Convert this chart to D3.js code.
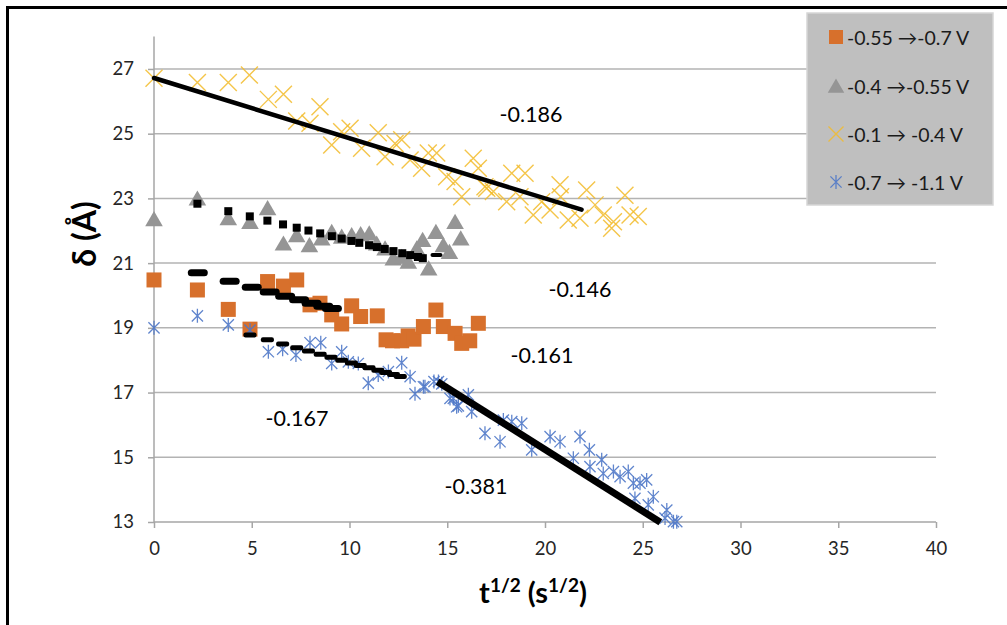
<!DOCTYPE html>
<html>
<head>
<meta charset="utf-8">
<script src="https://cdn.jsdelivr.net/npm/d3@7"></script>
<style>
  body { margin: 0; background: #fff; }
  svg text { font-family: Lato, "Open Sans", sans-serif; }
</style>
</head>
<body>
<svg id="chart" width="1007" height="625"></svg>
<script>
// Axis ticks
const xTickValues = [0, 5, 10, 15, 20, 25, 30, 35, 40];
const yTickValues = [13, 15, 17, 19, 21, 23, 25, 27];

// Series names (potential steps)
const seriesNames = ["-0.55 \u2192-0.7 V", "-0.4 \u2192-0.55 V", "-0.1 \u2192 -0.4 V", "-0.7 \u2192 -1.1 V"];

// Measured thickness δ (Å) against t^1/2 (s^1/2)
const orangePts = [
  [0, 20.48], [2.22, 20.17], [3.8, 19.57], [4.91, 18.96], [5.81, 20.43], [6.62, 20.29],
  [7.3, 20.48], [7.98, 19.71], [8.49, 19.76], [9.09, 19.4], [9.6, 19.12], [10.11, 19.68],
  [10.57, 19.35], [11.42, 19.37], [11.87, 18.63], [12.2, 18.6], [12.67, 18.6], [13.0, 18.75],
  [13.3, 18.65], [13.78, 19.04], [14.42, 19.55], [14.8, 19.04], [15.4, 18.83], [15.74, 18.52],
  [16.15, 18.6], [16.59, 19.14]
];
const grayPts = [
  [0, 22.36], [2.22, 23.0], [3.8, 22.39], [4.91, 22.28], [5.81, 22.7], [6.62, 21.61],
  [7.3, 21.87], [7.95, 21.56], [8.58, 21.77], [9.09, 21.97], [9.6, 21.82], [10.11, 21.87],
  [10.57, 21.9], [11.01, 21.92], [11.39, 21.61], [11.82, 21.46], [12.24, 21.15], [12.67, 21.2],
  [13.01, 21.05], [13.44, 21.46], [13.74, 21.72], [14.05, 20.84], [14.42, 21.97], [14.8, 21.56],
  [15.11, 21.35], [15.4, 22.28], [15.69, 21.77]
];
const yellowPts = [
  [0, 26.71], [2.22, 26.58], [3.8, 26.58], [4.88, 26.81], [5.85, 26.06], [6.62, 26.22],
  [7.3, 25.39], [7.98, 25.32], [8.49, 25.83], [9.09, 24.65], [9.6, 25.06], [10.03, 25.17],
  [10.62, 24.55], [11.47, 25.03], [11.82, 24.29], [12.33, 24.7], [12.67, 24.81], [13.1, 24.19],
  [13.69, 23.93], [14.03, 24.4], [14.46, 24.4], [14.97, 23.67], [15.4, 23.52], [15.74, 23.05],
  [16.33, 24.24], [16.59, 23.93], [16.93, 23.36], [17.02, 23.31], [17.36, 23.21], [18.04, 22.9],
  [18.3, 23.78], [18.72, 23.05], [18.98, 23.78], [19.4, 22.49], [19.83, 22.9], [20.26, 22.64],
  [20.77, 23.42], [20.8, 23.05], [21.19, 22.33], [21.79, 22.39], [22.13, 23.26], [22.56, 22.8],
  [22.98, 22.49], [23.41, 22.08], [23.5, 22.28], [24.09, 23.1], [24.35, 22.49], [24.77, 22.44]
];
const bluePts = [
  [0, 19.0], [2.22, 19.37], [3.8, 19.09], [4.91, 18.93], [5.85, 18.26], [6.58, 18.34],
  [7.26, 18.16], [7.98, 18.54], [8.53, 18.54], [9.09, 17.9], [9.6, 18.26], [9.94, 17.95],
  [10.45, 17.9], [10.96, 17.29], [11.47, 17.54], [11.99, 17.65], [12.67, 17.92], [13.1, 17.49],
  [13.35, 16.96], [13.78, 17.18], [13.86, 17.18], [14.32, 17.34], [14.55, 17.34], [14.72, 17.27],
  [15.14, 16.82], [15.31, 16.82], [15.48, 16.56], [15.57, 16.59], [16.08, 16.93], [16.25, 16.41],
  [16.93, 15.74], [17.7, 15.48], [17.87, 16.15], [18.3, 16.1], [18.81, 16.05], [19.32, 15.23],
  [20.26, 15.64], [20.77, 15.48], [21.45, 14.97], [21.79, 15.64], [22.27, 15.23], [22.3, 14.71],
  [22.9, 14.92], [22.98, 14.5], [23.5, 14.56], [23.84, 14.4], [24.26, 14.56], [24.52, 14.2],
  [24.6, 13.73], [24.86, 14.2], [25.2, 14.3], [25.28, 13.53], [25.54, 13.78], [26.14, 13.12],
  [26.23, 13.37], [26.57, 13.01], [26.74, 13.01]
];

// Linear fits: slope (as labelled) and intercept, and the abscissae where each fit is plotted
const fitSlopes = [-0.186, -0.146, -0.161, -0.167, -0.381];
const fitIntercepts = [26.72, 23.16, 21.06, 19.6, 22.86];
const fitYellowX = [0, 21.87];
const fitGrayX = [2.22, 3.8, 4.9, 5.8, 6.6, 7.3, 7.9, 8.5, 9.1, 9.6, 10.1, 10.5, 11.0, 11.4,
  11.8, 12.25, 12.7, 13.1, 13.5, 13.75];
const fitOrangeX = [2.24, 3.87, 5.0, 5.92, 6.71, 7.42, 8.06, 8.66, 9.1];
const fitBlueX = [4.91, 5.8, 6.58, 7.3, 7.9, 8.5, 9.05, 9.6, 10.1, 10.55, 11.0, 11.45, 11.85,
  12.25, 12.6];
const fitBlueSteepX = [14.5, 25.9];
const grayTailPts = [[14.45, 21.25]];

// Slope labels, anchored in data coordinates
const slopeLabelAt = [[19.28, 25.61], [21.79, 20.2], [19.85, 18.16], [7.31, 16.21], [16.47, 14.11]];

const colors = { orange: "#d7702c", gray: "#959595", yellow: "#f2bb2a", blue: "#4f78c8" };

const svg = d3.select("#chart");
const x = d3.scaleLinear().domain([0, 40]).range([154, 936]);
const y = d3.scaleLinear().domain([13, 28]).range([522, 36.6]);

// outer frame (left and top edges)
svg.append("path")
  .attr("d", "M7.5,630V7.5H1010")
  .attr("fill", "none").attr("stroke", "#000").attr("stroke-width", 3);

// horizontal gridlines
svg.append("g").selectAll("line").data(yTickValues.filter(v => v > 13)).join("line")
  .attr("x1", x(0)).attr("x2", x(40))
  .attr("y1", d => y(d)).attr("y2", d => y(d))
  .attr("stroke", "#b3b3b3").attr("stroke-width", 1.5);

// y axis
const yAxis = svg.append("g").attr("transform", `translate(${x(0)},0)`)
  .call(d3.axisLeft(y).tickValues(yTickValues).tickSize(6).tickPadding(14).tickFormat(d3.format("d")));
yAxis.select(".domain").attr("stroke", "#a6a6a6").attr("stroke-width", 1.5).attr("d", `M0,${y(28)}V${y(13)}`);
yAxis.selectAll(".tick line").attr("stroke", "#a6a6a6").attr("stroke-width", 1.5);
yAxis.selectAll("text").attr("font-size", 18.5).attr("fill", "#262626").attr("font-family", "Lato");

// x axis
const xAxis = svg.append("g").attr("transform", `translate(0,${y(13)})`)
  .call(d3.axisBottom(x).tickValues(xTickValues).tickSize(6).tickPadding(14).tickFormat(d3.format("d")));
xAxis.select(".domain").attr("stroke", "#a6a6a6").attr("stroke-width", 1.5).attr("d", `M${x(0)},0H${x(40)}`);
xAxis.selectAll(".tick line").attr("stroke", "#a6a6a6").attr("stroke-width", 1.5);
xAxis.selectAll("text").attr("font-size", 18.5).attr("fill", "#262626").attr("font-family", "Lato");

// axis titles
svg.append("text")
  .attr("transform", `translate(96,${y(21.9)}) rotate(-90)`)
  .attr("text-anchor", "middle")
  .attr("font-size", 32).attr("font-weight", 700).attr("fill", "#000")
  .text("\u03b4 (\u00c5)");

const xt = svg.append("text")
  .attr("x", 533).attr("y", 603)
  .attr("text-anchor", "middle")
  .attr("font-size", 29).attr("font-weight", 700).attr("fill", "#000");
xt.append("tspan").text("t");
xt.append("tspan").attr("dy", -11).attr("font-size", 19).text("1/2");
xt.append("tspan").attr("dy", 11).text(" (s");
xt.append("tspan").attr("dy", -11).attr("font-size", 19).text("1/2");
xt.append("tspan").attr("dy", 11).text(")");

// marker shapes
function squareMark(g, s, c) {
  g.append("rect").attr("x", -s / 2).attr("y", -s / 2).attr("width", s).attr("height", s).attr("fill", c);
}
function triangleMark(g, s, c) {
  g.append("path").attr("d", `M0,${-s * 0.5}L${s * 0.55},${s * 0.45}L${-s * 0.55},${s * 0.45}Z`).attr("fill", c);
}
function crossMark(g, s, c) {
  const h = s / 2;
  g.append("path").attr("d", `M${-h},${-h}L${h},${h}M${-h},${h}L${h},${-h}`)
    .attr("stroke", c).attr("stroke-width", 1.4).attr("fill", "none").attr("opacity", 0.85);
}
function starMark(g, s, c) {
  const h = s / 2, d = h * 0.8;
  g.append("path").attr("d", `M0,${-h}V${h}M${-d},${-d}L${d},${d}M${-d},${d}L${d},${-d}`)
    .attr("stroke", c).attr("stroke-width", 1.3).attr("fill", "none").attr("opacity", 0.9);
}

function plotSeries(pts, fn, size, color) {
  const g = svg.append("g");
  pts.forEach(p => {
    const m = g.append("g").attr("transform", `translate(${x(p[0])},${y(p[1])})`);
    fn(m, size, color);
  });
}

plotSeries(orangePts, squareMark, 15, colors.orange);
plotSeries(grayPts, triangleMark, 16, colors.gray);
plotSeries(yellowPts, crossMark, 17, colors.yellow);
plotSeries(bluePts, starMark, 14, colors.blue);

// fitted lines
const fitY = (i, xv) => fitIntercepts[i] + fitSlopes[i] * xv;
const fits = svg.append("g");

fits.append("line")
  .attr("x1", x(fitYellowX[0])).attr("y1", y(fitY(0, fitYellowX[0])))
  .attr("x2", x(fitYellowX[1])).attr("y2", y(fitY(0, fitYellowX[1])))
  .attr("stroke", "#000").attr("stroke-width", 4.5).attr("stroke-linecap", "round");

fits.selectAll("rect.gfit").data(fitGrayX).join("rect").attr("class", "gfit")
  .attr("x", d => x(d) - 4).attr("y", d => y(fitY(1, d)) - 4)
  .attr("width", 8).attr("height", 8).attr("fill", "#000");

fits.selectAll("rect.ofit").data(fitOrangeX).join("rect").attr("class", "ofit")
  .attr("x", d => x(d) - 10).attr("y", d => y(fitY(2, d)) - 3.5)
  .attr("width", 20).attr("height", 7).attr("rx", 3.5).attr("fill", "#000");

fits.selectAll("rect.bfit").data(fitBlueX).join("rect").attr("class", "bfit")
  .attr("x", d => x(d) - 6.5).attr("y", d => y(fitY(3, d)) - 2.5)
  .attr("width", 13).attr("height", 5).attr("rx", 2).attr("fill", "#000");

fits.selectAll("rect.gtail").data(grayTailPts).join("rect").attr("class", "gtail")
  .attr("x", d => x(d[0]) - 6).attr("y", d => y(d[1]) - 2)
  .attr("width", 12).attr("height", 4).attr("rx", 2).attr("fill", "#000");

fits.append("line")
  .attr("x1", x(fitBlueSteepX[0])).attr("y1", y(fitY(4, fitBlueSteepX[0])))
  .attr("x2", x(fitBlueSteepX[1])).attr("y2", y(fitY(4, fitBlueSteepX[1])))
  .attr("stroke", "#000").attr("stroke-width", 7);

// slope labels
svg.append("g").selectAll("text").data(fitSlopes).join("text")
  .attr("x", (d, i) => x(slopeLabelAt[i][0]))
  .attr("y", (d, i) => y(slopeLabelAt[i][1]))
  .attr("text-anchor", "middle").attr("dominant-baseline", "central")
  .attr("font-size", 21.5).attr("fill", "#000")
  .text(d => d.toFixed(3));

// legend
const legend = svg.append("g");
legend.append("rect").attr("x", 807).attr("y", 13).attr("width", 186).attr("height", 192)
  .attr("fill", "#bfbfbf").attr("stroke", "#d6d6d6").attr("stroke-width", 1.5);
const legendMarks = [
  [squareMark, 14, colors.orange], [triangleMark, 15, colors.gray],
  [crossMark, 15, colors.yellow], [starMark, 14, colors.blue]
];
const rowY = [37, 86, 134, 182];
seriesNames.forEach((name, i) => {
  const m = legend.append("g").attr("transform", `translate(836,${rowY[i]})`);
  legendMarks[i][0](m, legendMarks[i][1], legendMarks[i][2]);
  legend.append("text").attr("x", 847).attr("y", rowY[i])
    .attr("dominant-baseline", "central").attr("font-size", 19.5).attr("fill", "#1a1a1a")
    .text(name);
});
</script>
</body>
</html>
